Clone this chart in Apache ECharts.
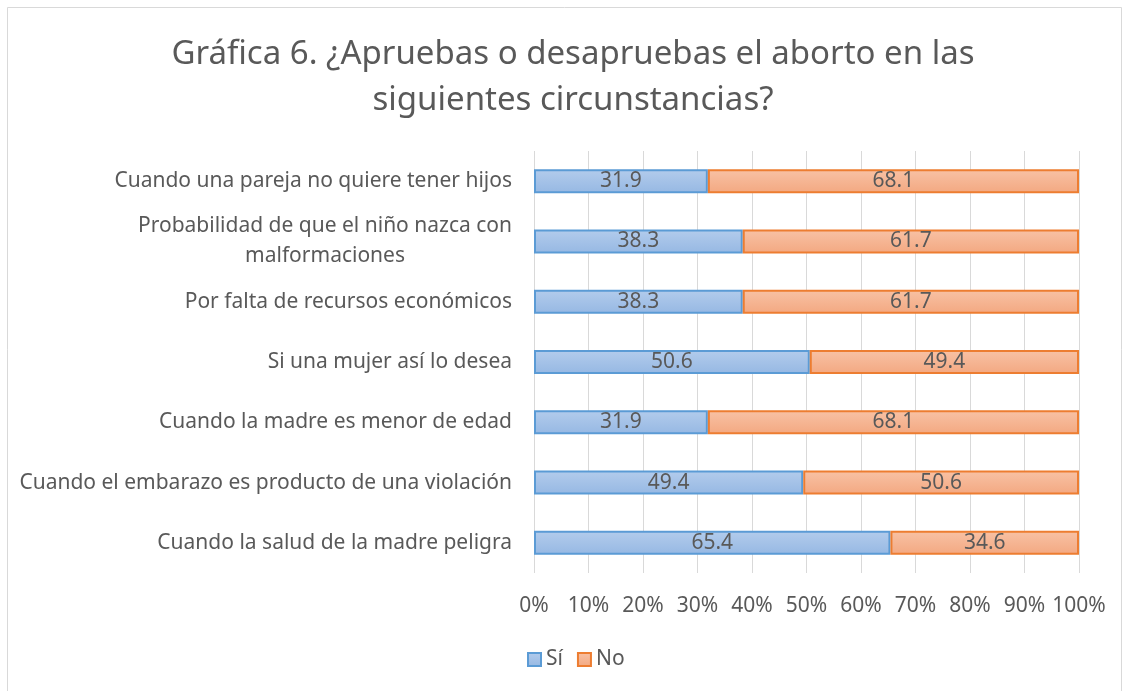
<!DOCTYPE html>
<html>
<head>
<meta charset="utf-8">
<style>
    html, body{
        margin: 0;
        padding: 0;
        background: #fff;
    }
    #main{
        width: 1130px;
        height: 691px;
    }
</style>
<script src="https://cdn.jsdelivr.net/npm/echarts@6/dist/echarts.min.js"></script>
</head>
<body>
<div id="main"></div>
<script>
    // datos de la gráfica (de abajo hacia arriba, como en el eje)
    var categories = [
        'Cuando la salud de la madre peligra',
        'Cuando el embarazo es producto de una violación',
        'Cuando la madre es menor de edad',
        'Si una mujer así lo desea',
        'Por falta de recursos económicos',
        'Probabilidad de que el niño nazca con\nmalformaciones',
        'Cuando una pareja no quiere tener hijos'
    ];
    var si = [65.4, 49.4, 31.9, 50.6, 38.3, 38.3, 31.9];
    var no = [34.6, 50.6, 68.1, 49.4, 61.7, 61.7, 68.1];
    var tickLabels = ['0%', '10%', '20%', '30%', '40%', '50%', '60%', '70%', '80%', '90%', '100%'];

    var fontFam = 'Noto Sans';
    var grey = '#595959';

    function grad(c1, c2){
        return new echarts.graphic.LinearGradient(0, 0, 0, 1, [
            {offset: 0, color: c1},
            {offset: 1, color: c2}
        ]);
    }

    var myChart = echarts.init(document.getElementById('main'));
    var option = {
        backgroundColor: '#fff',
        textStyle: {fontFamily: fontFam},
        title: {
            text: 'Gráfica 6. ¿Apruebas o desapruebas el aborto en las\nsiguientes circunstancias?',
            left: 568,
            textAlign: 'center',
            top: 27,
            textStyle: {
                fontFamily: fontFam,
                fontSize: 33,
                fontWeight: 'normal',
                color: grey,
                lineHeight: 46
            }
        },
        graphic: [{
            type: 'rect',
            shape: {x: 7.5, y: 7.5, width: 1114, height: 700},
            style: {fill: 'none', stroke: '#d9d9d9', lineWidth: 1},
            silent: true
        }],
        legend: {
            bottom: 16,
            left: 522,
            itemWidth: 13,
            itemHeight: 13,
            itemGap: 14,
            icon: 'rect',
            textStyle: {fontSize: 21, color: grey, fontFamily: fontFam},
            data: ['Sí', 'No']
        },
        grid: {
            left: 534,
            right: 51,
            top: 151,
            bottom: 118
        },
        xAxis: {
            type: 'value',
            min: 0,
            max: 100,
            interval: 10,
            axisLine: {show: false},
            axisTick: {show: false},
            splitLine: {lineStyle: {color: '#d9d9d9', width: 1}},
            axisLabel: {
                color: grey,
                fontSize: 21,
                margin: 23,
                fontFamily: fontFam,
                formatter: function (v) { return tickLabels[Math.round(v / 10)]; }
            }
        },
        yAxis: {
            type: 'category',
            data: categories,
            axisLine: {show: false},
            axisTick: {show: false},
            axisLabel: {
                color: grey,
                fontSize: 21,
                margin: 22,
                lineHeight: 30,
                align: 'right',
                fontFamily: fontFam,
                // segunda línea algo desplazada hacia el centro, como en Excel
                formatter: function (v) {
                    var p = v.split('\n');
                    if (p.length < 2) return v;
                    return '{a|' + p[0] + '}\n{b|' + p[1] + '}';
                },
                rich: {
                    a: {fontSize: 21, lineHeight: 30, color: grey, fontFamily: fontFam},
                    b: {padding: [0, 107, 0, 0], fontSize: 21, lineHeight: 30, color: grey, fontFamily: fontFam}
                }
            }
        },
        series: [
            {
                name: 'Sí',
                type: 'bar',
                stack: 'total',
                barWidth: 24,
                data: si,
                itemStyle: {
                    color: grad('#b3ccec', '#96b8e3'),
                    borderColor: '#5b9bd5',
                    borderWidth: 2
                },
                label: {
                    show: true,
                    position: 'inside',
                    color: grey,
                    fontSize: 21,
                    fontFamily: fontFam
                }
            },
            {
                name: 'No',
                type: 'bar',
                stack: 'total',
                barWidth: 24,
                data: no,
                itemStyle: {
                    color: grad('#f8c2a5', '#f3a881'),
                    borderColor: '#ed7d31',
                    borderWidth: 2
                },
                label: {
                    show: true,
                    position: 'inside',
                    color: grey,
                    fontSize: 21,
                    fontFamily: fontFam
                }
            }
        ]
    };
    myChart.setOption(option);
</script>
</body>
</html>
